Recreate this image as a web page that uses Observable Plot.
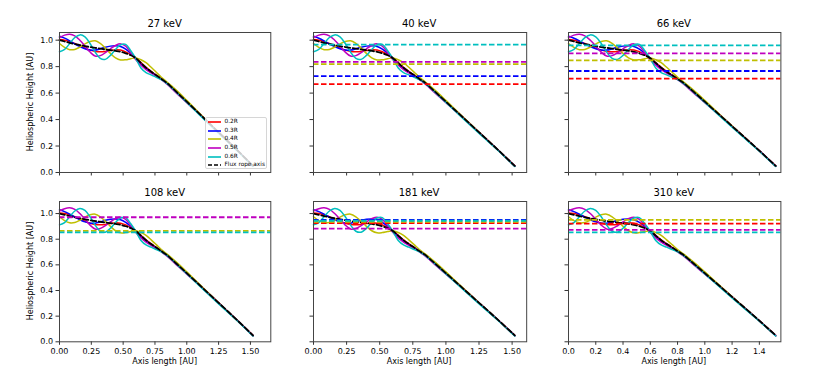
<!DOCTYPE html>
<html>
<head>
<meta charset="utf-8">
<script src="https://cdn.jsdelivr.net/npm/d3@7"></script>
<script src="https://cdn.jsdelivr.net/npm/@observablehq/plot@0.6"></script>
<style>
html, body { margin: 0; padding: 0; background: #fff; }
#fig { position: relative; width: 830px; height: 381px; overflow: hidden; font-family: "DejaVu Sans", sans-serif; color: #000; background: #fff; }
.ttl { position: absolute; font-size: 10px; transform: translate(-50%, -50%); white-space: nowrap; line-height: 1; }
.xlab { position: absolute; font-size: 8px; transform: translate(-50%, -50%); white-space: nowrap; line-height: 1; }
.ylab { position: absolute; font-size: 8px; transform: translate(-50%, -50%) rotate(-90deg); white-space: nowrap; line-height: 1; }
.legend { position: absolute; background: rgba(255,255,255,0.8); border: 1px solid #d6d6d6; border-radius: 2px; box-sizing: border-box; }
.legend .row { position: absolute; left: 0; height: 8px; width: 100%; }
.legend svg { position: absolute; left: 1.5px; top: 0; }
.legend span { position: absolute; left: 18.5px; top: 50%; transform: translateY(-50%); font-size: 5.8px; line-height: 1; white-space: nowrap; }
</style>
</head>
<body>
<div id="fig"></div>
<script>
// ---------- data ----------
const energies = ["27 keV", "40 keV", "66 keV", "108 keV", "181 keV", "310 keV"];
const seriesNames = ["0.2R", "0.3R", "0.4R", "0.5R", "0.6R"];
const axisName = "Flux rope axis";

// axis length [AU] sample positions (shared by all field lines)
const axisLength = [0, 0.04, 0.08, 0.12, 0.16, 0.20, 0.24, 0.28, 0.32, 0.36, 0.40, 0.44, 0.48, 0.52, 0.56, 0.60, 0.64, 0.68, 0.72, 0.76, 0.80, 0.84, 0.88, 0.94, 1.00, 1.10, 1.20, 1.30, 1.40, 1.52];

// heliospheric height [AU]
const heightAxis = [1.000, 0.990, 0.980, 0.971, 0.963, 0.955, 0.948, 0.942, 0.936, 0.930, 0.925, 0.919, 0.912, 0.901, 0.886, 0.864, 0.828, 0.792, 0.762, 0.735, 0.707, 0.680, 0.645, 0.590, 0.535, 0.443, 0.350, 0.258, 0.165, 0.050];
const height02R  = [1.005, 1.000, 0.990, 0.975, 0.958, 0.940, 0.925, 0.915, 0.912, 0.915, 0.922, 0.928, 0.925, 0.912, 0.892, 0.866, 0.830, 0.795, 0.765, 0.736, 0.708, 0.680, 0.645, 0.592, 0.536, 0.443, 0.350, 0.258, 0.164, 0.050];
const height03R  = [1.030, 1.015, 0.995, 0.972, 0.952, 0.935, 0.925, 0.925, 0.935, 0.947, 0.955, 0.958, 0.952, 0.932, 0.900, 0.862, 0.820, 0.785, 0.758, 0.732, 0.706, 0.679, 0.645, 0.590, 0.535, 0.443, 0.350, 0.257, 0.164, 0.048];
const height04R  = [0.975, 0.945, 0.928, 0.930, 0.948, 0.972, 0.990, 0.995, 0.975, 0.940, 0.900, 0.866, 0.850, 0.852, 0.860, 0.866, 0.852, 0.830, 0.795, 0.758, 0.720, 0.688, 0.655, 0.602, 0.545, 0.448, 0.352, 0.258, 0.163, 0.047];
const height05R  = [1.020, 1.038, 1.045, 1.033, 1.000, 0.955, 0.910, 0.880, 0.883, 0.905, 0.935, 0.960, 0.972, 0.955, 0.905, 0.852, 0.810, 0.778, 0.752, 0.728, 0.702, 0.672, 0.636, 0.581, 0.527, 0.440, 0.348, 0.256, 0.163, 0.047];
const height06R  = [0.912, 0.930, 0.975, 1.020, 1.040, 1.025, 0.975, 0.910, 0.862, 0.855, 0.885, 0.930, 0.965, 0.968, 0.920, 0.860, 0.790, 0.755, 0.738, 0.720, 0.702, 0.676, 0.642, 0.586, 0.530, 0.435, 0.342, 0.251, 0.160, 0.045];

// horizontal levels per energy, ordered as seriesNames (null = not shown)
const levels27  = [null, null, null, null, null];
const levels40  = [0.668, 0.728, 0.819, 0.836, 0.967];
const levels66  = [0.709, 0.767, 0.848, 0.900, 0.961];
const levels108 = [null, null, 0.865, 0.971, 0.853];
const levels181 = [0.925, 0.951, 0.935, 0.883, 0.944];
const levels310 = [0.921, null, 0.951, 0.873, 0.853];

const yTicks = [0, 0.2, 0.4, 0.6, 0.8, 1.0];
const xTicksQuarter = [0, 0.25, 0.5, 0.75, 1.0, 1.25, 1.5];
const xTicksFifth = [0, 0.2, 0.4, 0.6, 0.8, 1.0, 1.2, 1.4];

const xLabel = "Axis length [AU]";
const yLabel = "Heliospheric Height [AU]";

// ---------- style / layout ----------
const palette = ["#ff0000", "#0000ff", "#bfbf00", "#bf00bf", "#00bfbf"];
const cols = [
  {left: 59, width: 211.3, xmax: 1.66, ticks: xTicksQuarter, fmt: ".2f"},
  {left: 312.5, width: 213.2, xmax: 1.61, ticks: xTicksQuarter, fmt: ".2f"},
  {left: 567.6, width: 212.4, xmax: 1.558, ticks: xTicksFifth, fmt: ".1f"}
];
const rows = [
  {top: 32.3, height: 140, ymax: 1.058},
  {top: 200.7, height: 140.3, ymax: 1.094}
];
const ML = 42, MR = 6, MT = 4, MB = 22;
const dash = "5.5,2.5";

const seriesY = [height02R, height03R, height04R, height05R, height06R];
const curves = seriesNames.flatMap((s, i) => axisLength.map((x, j) => ({series: s, x, y: seriesY[i][j]})));
const axisLine = axisLength.map((x, j) => ({x, y: heightAxis[j]}));
const levelsByPanel = [levels27, levels40, levels66, levels108, levels181, levels310];

const fig = document.getElementById("fig");

energies.forEach((title, p) => {
  const r = Math.floor(p / 3), c = p % 3;
  const col = cols[c], row = rows[r];
  const levels = seriesNames
    .map((s, i) => ({series: s, y: levelsByPanel[p][i]}))
    .filter(d => d.y != null);
  const svg = Plot.plot({
    width: col.width + ML + MR,
    height: row.height + MT + MB,
    marginLeft: ML, marginRight: MR, marginTop: MT, marginBottom: MB,
    style: {fontFamily: "DejaVu Sans, sans-serif", fontSize: "8px", background: "transparent", overflow: "visible", color: "#000"},
    x: {domain: [0, col.xmax]},
    y: {domain: [0, row.ymax]},
    color: {domain: seriesNames, range: palette},
    marks: [
      Plot.line(curves, {x: "x", y: "y", z: "series", stroke: "series", strokeWidth: 1.5, curve: "catmull-rom"}),
      Plot.line(axisLine, {x: "x", y: "y", stroke: "#000", strokeWidth: 1.8, strokeDasharray: dash, curve: "catmull-rom"}),
      Plot.ruleY(levels, {y: "y", stroke: "series", strokeWidth: 1.8, strokeDasharray: dash}),
      Plot.axisX({ticks: col.ticks, tickFormat: d3.format(col.fmt), tickSize: 3.5, tickPadding: 3, fontSize: 8,
                  stroke: "#333", fill: r === 1 ? "#000" : "none", label: null}),
      Plot.axisY({ticks: yTicks, tickFormat: d3.format(".1f"), tickSize: 3.5, tickPadding: 3, fontSize: 8,
                  stroke: "#333", fill: c === 0 ? "#000" : "none", label: null}),
      Plot.frame({stroke: "#444", strokeWidth: 1})
    ]
  });
  svg.style.position = "absolute";
  svg.style.left = (col.left - ML) + "px";
  svg.style.top = (row.top - MT) + "px";
  svg.style.maxWidth = "none";
  fig.appendChild(svg);

  const t = document.createElement("div");
  t.className = "ttl";
  t.textContent = title;
  t.style.left = (col.left + col.width / 2) + "px";
  t.style.top = (row.top - 8) + "px";
  fig.appendChild(t);

  if (c === 0) {
    const yl = document.createElement("div");
    yl.className = "ylab";
    yl.textContent = yLabel;
    yl.style.left = "31px";
    yl.style.top = (row.top + row.height / 2) + "px";
    fig.appendChild(yl);
  }
  if (r === 1) {
    const xl = document.createElement("div");
    xl.className = "xlab";
    xl.textContent = xLabel;
    xl.style.left = (col.left + col.width / 2) + "px";
    xl.style.top = "362px";
    fig.appendChild(xl);
  }
});

// legend (first panel)
const legend = document.createElement("div");
legend.className = "legend";
Object.assign(legend.style, {left: "205px", top: "116.5px", width: "62px", height: "52px"});
const entries = seriesNames.map((s, i) => ({label: s, color: palette[i], dashed: false}))
  .concat([{label: axisName, color: "#000", dashed: true}]);
entries.forEach((e, k) => {
  const rowDiv = document.createElement("div");
  rowDiv.className = "row";
  rowDiv.style.top = (0.3 + k * 8.7) + "px";
  const ns = "http://www.w3.org/2000/svg";
  const s = document.createElementNS(ns, "svg");
  s.setAttribute("width", "14");
  s.setAttribute("height", "8");
  const ln = document.createElementNS(ns, "line");
  ln.setAttribute("x1", "0"); ln.setAttribute("x2", "13");
  ln.setAttribute("y1", "4"); ln.setAttribute("y2", "4");
  ln.setAttribute("stroke", e.color);
  ln.setAttribute("stroke-width", "1.6");
  if (e.dashed) ln.setAttribute("stroke-dasharray", "4,2");
  s.appendChild(ln);
  const sp = document.createElement("span");
  sp.textContent = e.label;
  rowDiv.appendChild(s);
  rowDiv.appendChild(sp);
  legend.appendChild(rowDiv);
});
fig.appendChild(legend);
</script>
</body>
</html>
